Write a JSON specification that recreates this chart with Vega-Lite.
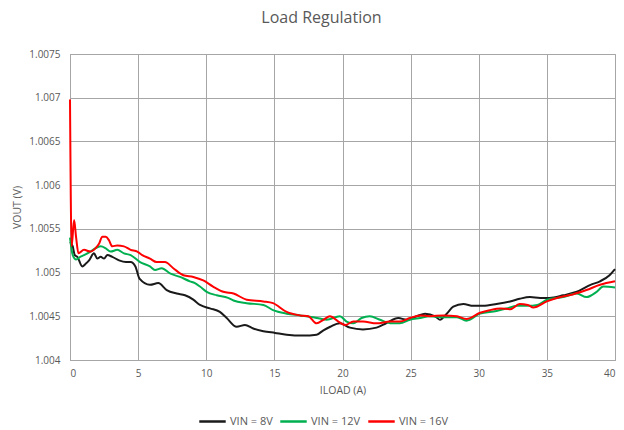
{
  "$schema": "https://vega.github.io/schema/vega-lite/v6.json",
  "width": 545,
  "height": 306,
  "autosize": {"type": "none"},
  "padding": {"left": 70, "top": 54, "right": 9, "bottom": 70},
  "title": {"text": "Load Regulation", "fontSize": 16, "fontWeight": "normal", "color": "#595959", "font": "Open Sans", "offset": 23, "dx": -21},
  "config": {
    "view": {"stroke": "#a6a6a6", "strokeWidth": 1},
    "axis": {"labelFont": "Open Sans", "titleFont": "Open Sans", "labelColor": "#595959", "titleColor": "#595959", "labelFontSize": 10, "titleFontSize": 10.5, "titleFontWeight": "normal", "gridColor": "#a6a6a6", "gridOpacity": 1, "domainColor": "#a6a6a6", "ticks": false},
    "legend": {"labelFont": "Open Sans", "labelColor": "#595959", "labelFontSize": 11}
  },
  "data": {"values": [
    {"series": "VIN = 8V", "iload": 0, "vout": 1.00535},
    {"series": "VIN = 8V", "iload": 0.2, "vout": 1.0053},
    {"series": "VIN = 8V", "iload": 0.35, "vout": 1.0052},
    {"series": "VIN = 8V", "iload": 0.54, "vout": 1.00518},
    {"series": "VIN = 8V", "iload": 0.9, "vout": 1.00507},
    {"series": "VIN = 8V", "iload": 1.15, "vout": 1.0051},
    {"series": "VIN = 8V", "iload": 1.4, "vout": 1.00514},
    {"series": "VIN = 8V", "iload": 1.76, "vout": 1.00522},
    {"series": "VIN = 8V", "iload": 2.0, "vout": 1.00516},
    {"series": "VIN = 8V", "iload": 2.25, "vout": 1.00518},
    {"series": "VIN = 8V", "iload": 2.5, "vout": 1.00516},
    {"series": "VIN = 8V", "iload": 2.74, "vout": 1.0052},
    {"series": "VIN = 8V", "iload": 3.1, "vout": 1.00518},
    {"series": "VIN = 8V", "iload": 3.6, "vout": 1.00514},
    {"series": "VIN = 8V", "iload": 4.1, "vout": 1.00512},
    {"series": "VIN = 8V", "iload": 4.45, "vout": 1.00512},
    {"series": "VIN = 8V", "iload": 4.8, "vout": 1.00507},
    {"series": "VIN = 8V", "iload": 5.1, "vout": 1.00493},
    {"series": "VIN = 8V", "iload": 5.87, "vout": 1.00486},
    {"series": "VIN = 8V", "iload": 6.48, "vout": 1.00488},
    {"series": "VIN = 8V", "iload": 7.1, "vout": 1.0048},
    {"series": "VIN = 8V", "iload": 7.83, "vout": 1.00476},
    {"series": "VIN = 8V", "iload": 8.44, "vout": 1.00474},
    {"series": "VIN = 8V", "iload": 9.05, "vout": 1.00469},
    {"series": "VIN = 8V", "iload": 9.54, "vout": 1.00463},
    {"series": "VIN = 8V", "iload": 10.27, "vout": 1.00459},
    {"series": "VIN = 8V", "iload": 11.0, "vout": 1.00455},
    {"series": "VIN = 8V", "iload": 11.5, "vout": 1.00448},
    {"series": "VIN = 8V", "iload": 12.23, "vout": 1.00438},
    {"series": "VIN = 8V", "iload": 12.84, "vout": 1.0044},
    {"series": "VIN = 8V", "iload": 13.45, "vout": 1.00436},
    {"series": "VIN = 8V", "iload": 14.19, "vout": 1.00433},
    {"series": "VIN = 8V", "iload": 15.05, "vout": 1.00431},
    {"series": "VIN = 8V", "iload": 15.9, "vout": 1.00429},
    {"series": "VIN = 8V", "iload": 17.1, "vout": 1.00428},
    {"series": "VIN = 8V", "iload": 18.1, "vout": 1.00429},
    {"series": "VIN = 8V", "iload": 18.6, "vout": 1.00434},
    {"series": "VIN = 8V", "iload": 19.1, "vout": 1.00438},
    {"series": "VIN = 8V", "iload": 19.8, "vout": 1.00442},
    {"series": "VIN = 8V", "iload": 20.55, "vout": 1.00437},
    {"series": "VIN = 8V", "iload": 21.5, "vout": 1.00435},
    {"series": "VIN = 8V", "iload": 22.5, "vout": 1.00437},
    {"series": "VIN = 8V", "iload": 23.2, "vout": 1.00442},
    {"series": "VIN = 8V", "iload": 24.1, "vout": 1.00448},
    {"series": "VIN = 8V", "iload": 24.7, "vout": 1.00446},
    {"series": "VIN = 8V", "iload": 25.45, "vout": 1.0045},
    {"series": "VIN = 8V", "iload": 26.06, "vout": 1.00453},
    {"series": "VIN = 8V", "iload": 26.8, "vout": 1.0045},
    {"series": "VIN = 8V", "iload": 27.15, "vout": 1.00446},
    {"series": "VIN = 8V", "iload": 27.65, "vout": 1.00453},
    {"series": "VIN = 8V", "iload": 28.13, "vout": 1.00461},
    {"series": "VIN = 8V", "iload": 28.87, "vout": 1.00464},
    {"series": "VIN = 8V", "iload": 29.6, "vout": 1.00462},
    {"series": "VIN = 8V", "iload": 30.3, "vout": 1.00462},
    {"series": "VIN = 8V", "iload": 31.3, "vout": 1.00464},
    {"series": "VIN = 8V", "iload": 32.3, "vout": 1.00467},
    {"series": "VIN = 8V", "iload": 33.0, "vout": 1.0047},
    {"series": "VIN = 8V", "iload": 33.76, "vout": 1.00472},
    {"series": "VIN = 8V", "iload": 34.5, "vout": 1.00471},
    {"series": "VIN = 8V", "iload": 35.2, "vout": 1.00471},
    {"series": "VIN = 8V", "iload": 36.2, "vout": 1.00474},
    {"series": "VIN = 8V", "iload": 37.2, "vout": 1.00478},
    {"series": "VIN = 8V", "iload": 38.2, "vout": 1.00486},
    {"series": "VIN = 8V", "iload": 38.9, "vout": 1.0049},
    {"series": "VIN = 8V", "iload": 39.6, "vout": 1.00497},
    {"series": "VIN = 8V", "iload": 40, "vout": 1.00504},
    {"series": "VIN = 12V", "iload": 0, "vout": 1.0054},
    {"series": "VIN = 12V", "iload": 0.2, "vout": 1.0052},
    {"series": "VIN = 12V", "iload": 0.45, "vout": 1.00515},
    {"series": "VIN = 12V", "iload": 0.75, "vout": 1.00518},
    {"series": "VIN = 12V", "iload": 1.03, "vout": 1.0052},
    {"series": "VIN = 12V", "iload": 1.5, "vout": 1.00524},
    {"series": "VIN = 12V", "iload": 1.88, "vout": 1.00528},
    {"series": "VIN = 12V", "iload": 2.25, "vout": 1.0053},
    {"series": "VIN = 12V", "iload": 2.6, "vout": 1.00528},
    {"series": "VIN = 12V", "iload": 2.98, "vout": 1.00524},
    {"series": "VIN = 12V", "iload": 3.47, "vout": 1.00526},
    {"series": "VIN = 12V", "iload": 3.96, "vout": 1.00522},
    {"series": "VIN = 12V", "iload": 4.45, "vout": 1.0052},
    {"series": "VIN = 12V", "iload": 5.14, "vout": 1.00512},
    {"series": "VIN = 12V", "iload": 5.87, "vout": 1.00507},
    {"series": "VIN = 12V", "iload": 6.24, "vout": 1.00503},
    {"series": "VIN = 12V", "iload": 6.73, "vout": 1.00505},
    {"series": "VIN = 12V", "iload": 7.34, "vout": 1.00499},
    {"series": "VIN = 12V", "iload": 8.07, "vout": 1.00495},
    {"series": "VIN = 12V", "iload": 8.8, "vout": 1.0049},
    {"series": "VIN = 12V", "iload": 9.17, "vout": 1.00488},
    {"series": "VIN = 12V", "iload": 9.54, "vout": 1.00484},
    {"series": "VIN = 12V", "iload": 10.03, "vout": 1.00478},
    {"series": "VIN = 12V", "iload": 10.77, "vout": 1.00474},
    {"series": "VIN = 12V", "iload": 11.6, "vout": 1.00471},
    {"series": "VIN = 12V", "iload": 12.0, "vout": 1.00468},
    {"series": "VIN = 12V", "iload": 12.97, "vout": 1.00465},
    {"series": "VIN = 12V", "iload": 14.19, "vout": 1.00463},
    {"series": "VIN = 12V", "iload": 14.9, "vout": 1.00457},
    {"series": "VIN = 12V", "iload": 15.9, "vout": 1.00453},
    {"series": "VIN = 12V", "iload": 16.9, "vout": 1.00451},
    {"series": "VIN = 12V", "iload": 17.86, "vout": 1.00449},
    {"series": "VIN = 12V", "iload": 18.84, "vout": 1.00446},
    {"series": "VIN = 12V", "iload": 19.8, "vout": 1.0045},
    {"series": "VIN = 12V", "iload": 20.3, "vout": 1.00444},
    {"series": "VIN = 12V", "iload": 20.8, "vout": 1.00442},
    {"series": "VIN = 12V", "iload": 21.4, "vout": 1.00448},
    {"series": "VIN = 12V", "iload": 22.0, "vout": 1.0045},
    {"series": "VIN = 12V", "iload": 22.75, "vout": 1.00446},
    {"series": "VIN = 12V", "iload": 23.5, "vout": 1.00442},
    {"series": "VIN = 12V", "iload": 24.2, "vout": 1.00442},
    {"series": "VIN = 12V", "iload": 24.95, "vout": 1.00446},
    {"series": "VIN = 12V", "iload": 25.7, "vout": 1.00448},
    {"series": "VIN = 12V", "iload": 26.4, "vout": 1.0045},
    {"series": "VIN = 12V", "iload": 27.4, "vout": 1.00449},
    {"series": "VIN = 12V", "iload": 28.4, "vout": 1.00449},
    {"series": "VIN = 12V", "iload": 29.1, "vout": 1.00445},
    {"series": "VIN = 12V", "iload": 30.1, "vout": 1.00453},
    {"series": "VIN = 12V", "iload": 31.3, "vout": 1.00456},
    {"series": "VIN = 12V", "iload": 32.05, "vout": 1.00459},
    {"series": "VIN = 12V", "iload": 32.8, "vout": 1.00462},
    {"series": "VIN = 12V", "iload": 33.6, "vout": 1.00462},
    {"series": "VIN = 12V", "iload": 34.3, "vout": 1.00463},
    {"series": "VIN = 12V", "iload": 35.0, "vout": 1.00469},
    {"series": "VIN = 12V", "iload": 36.2, "vout": 1.00472},
    {"series": "VIN = 12V", "iload": 37.2, "vout": 1.00476},
    {"series": "VIN = 12V", "iload": 37.9, "vout": 1.00472},
    {"series": "VIN = 12V", "iload": 38.65, "vout": 1.00478},
    {"series": "VIN = 12V", "iload": 39.14, "vout": 1.00484},
    {"series": "VIN = 12V", "iload": 40, "vout": 1.00483},
    {"series": "VIN = 16V", "iload": 0, "vout": 1.00698},
    {"series": "VIN = 16V", "iload": 0.12, "vout": 1.0053},
    {"series": "VIN = 16V", "iload": 0.3, "vout": 1.0056},
    {"series": "VIN = 16V", "iload": 0.45, "vout": 1.0054},
    {"series": "VIN = 16V", "iload": 0.62, "vout": 1.00522},
    {"series": "VIN = 16V", "iload": 1.03, "vout": 1.00526},
    {"series": "VIN = 16V", "iload": 1.5, "vout": 1.00524},
    {"series": "VIN = 16V", "iload": 1.88, "vout": 1.00528},
    {"series": "VIN = 16V", "iload": 2.13, "vout": 1.00533},
    {"series": "VIN = 16V", "iload": 2.37, "vout": 1.00541},
    {"series": "VIN = 16V", "iload": 2.62, "vout": 1.00541},
    {"series": "VIN = 16V", "iload": 2.86, "vout": 1.00537},
    {"series": "VIN = 16V", "iload": 3.1, "vout": 1.0053},
    {"series": "VIN = 16V", "iload": 3.47, "vout": 1.00531},
    {"series": "VIN = 16V", "iload": 3.96, "vout": 1.0053},
    {"series": "VIN = 16V", "iload": 4.45, "vout": 1.00526},
    {"series": "VIN = 16V", "iload": 4.94, "vout": 1.00524},
    {"series": "VIN = 16V", "iload": 5.3, "vout": 1.0052},
    {"series": "VIN = 16V", "iload": 5.87, "vout": 1.00516},
    {"series": "VIN = 16V", "iload": 6.36, "vout": 1.00512},
    {"series": "VIN = 16V", "iload": 6.97, "vout": 1.00512},
    {"series": "VIN = 16V", "iload": 7.58, "vout": 1.00505},
    {"series": "VIN = 16V", "iload": 8.32, "vout": 1.00497},
    {"series": "VIN = 16V", "iload": 9.05, "vout": 1.00495},
    {"series": "VIN = 16V", "iload": 9.78, "vout": 1.00491},
    {"series": "VIN = 16V", "iload": 10.5, "vout": 1.00484},
    {"series": "VIN = 16V", "iload": 11.25, "vout": 1.00478},
    {"series": "VIN = 16V", "iload": 12.0, "vout": 1.00476},
    {"series": "VIN = 16V", "iload": 12.97, "vout": 1.00469},
    {"series": "VIN = 16V", "iload": 14.19, "vout": 1.00467},
    {"series": "VIN = 16V", "iload": 14.9, "vout": 1.00465},
    {"series": "VIN = 16V", "iload": 15.9, "vout": 1.00455},
    {"series": "VIN = 16V", "iload": 16.9, "vout": 1.00451},
    {"series": "VIN = 16V", "iload": 17.5, "vout": 1.0045},
    {"series": "VIN = 16V", "iload": 18.1, "vout": 1.00442},
    {"series": "VIN = 16V", "iload": 18.6, "vout": 1.00446},
    {"series": "VIN = 16V", "iload": 19.08, "vout": 1.0045},
    {"series": "VIN = 16V", "iload": 19.7, "vout": 1.00444},
    {"series": "VIN = 16V", "iload": 20.2, "vout": 1.0044},
    {"series": "VIN = 16V", "iload": 20.8, "vout": 1.00444},
    {"series": "VIN = 16V", "iload": 21.5, "vout": 1.00444},
    {"series": "VIN = 16V", "iload": 22.5, "vout": 1.00442},
    {"series": "VIN = 16V", "iload": 23.5, "vout": 1.00444},
    {"series": "VIN = 16V", "iload": 24.2, "vout": 1.00444},
    {"series": "VIN = 16V", "iload": 24.95, "vout": 1.00448},
    {"series": "VIN = 16V", "iload": 25.7, "vout": 1.00451},
    {"series": "VIN = 16V", "iload": 26.4, "vout": 1.0045},
    {"series": "VIN = 16V", "iload": 27.4, "vout": 1.00451},
    {"series": "VIN = 16V", "iload": 28.4, "vout": 1.0045},
    {"series": "VIN = 16V", "iload": 29.1, "vout": 1.00447},
    {"series": "VIN = 16V", "iload": 30.1, "vout": 1.00454},
    {"series": "VIN = 16V", "iload": 30.8, "vout": 1.00457},
    {"series": "VIN = 16V", "iload": 31.6, "vout": 1.00459},
    {"series": "VIN = 16V", "iload": 32.3, "vout": 1.00458},
    {"series": "VIN = 16V", "iload": 33.0, "vout": 1.00464},
    {"series": "VIN = 16V", "iload": 33.6, "vout": 1.00463},
    {"series": "VIN = 16V", "iload": 34.0, "vout": 1.0046},
    {"series": "VIN = 16V", "iload": 35.0, "vout": 1.00467},
    {"series": "VIN = 16V", "iload": 36.0, "vout": 1.00472},
    {"series": "VIN = 16V", "iload": 36.9, "vout": 1.00475},
    {"series": "VIN = 16V", "iload": 37.9, "vout": 1.0048},
    {"series": "VIN = 16V", "iload": 38.9, "vout": 1.00486},
    {"series": "VIN = 16V", "iload": 40, "vout": 1.0049}
  ]},
  "mark": {"type": "line", "interpolate": "monotone", "strokeWidth": 2},
  "encoding": {
    "x": {"field": "iload", "type": "quantitative", "title": "ILOAD (A)", "scale": {"domain": [0, 40], "nice": false}, "axis": {"values": [0, 5, 10, 15, 20, 25, 30, 35, 40], "labelPadding": 8, "titlePadding": 7}},
    "y": {"field": "vout", "type": "quantitative", "title": "VOUT (V)", "scale": {"domain": [1.004, 1.0075], "nice": false, "zero": false}, "axis": {"values": [1.004, 1.0045, 1.005, 1.0055, 1.006, 1.0065, 1.007, 1.0075], "format": ".4~f", "labelPadding": 10, "titlePadding": 6}},
    "color": {"field": "series", "type": "nominal", "sort": ["VIN = 8V", "VIN = 12V", "VIN = 16V"], "scale": {"domain": ["VIN = 8V", "VIN = 12V", "VIN = 16V"], "range": ["#1a1a1a", "#00b050", "#ff0000"]}, "legend": {"title": null, "orient": "none", "legendX": 128, "legendY": 353, "direction": "horizontal", "gridAlign": "none", "symbolType": "stroke", "symbolStrokeWidth": 2.5, "symbolSize": 700, "labelOffset": 3, "columnPadding": 2}},
    "order": {"field": "iload", "type": "quantitative"}
  }
}
